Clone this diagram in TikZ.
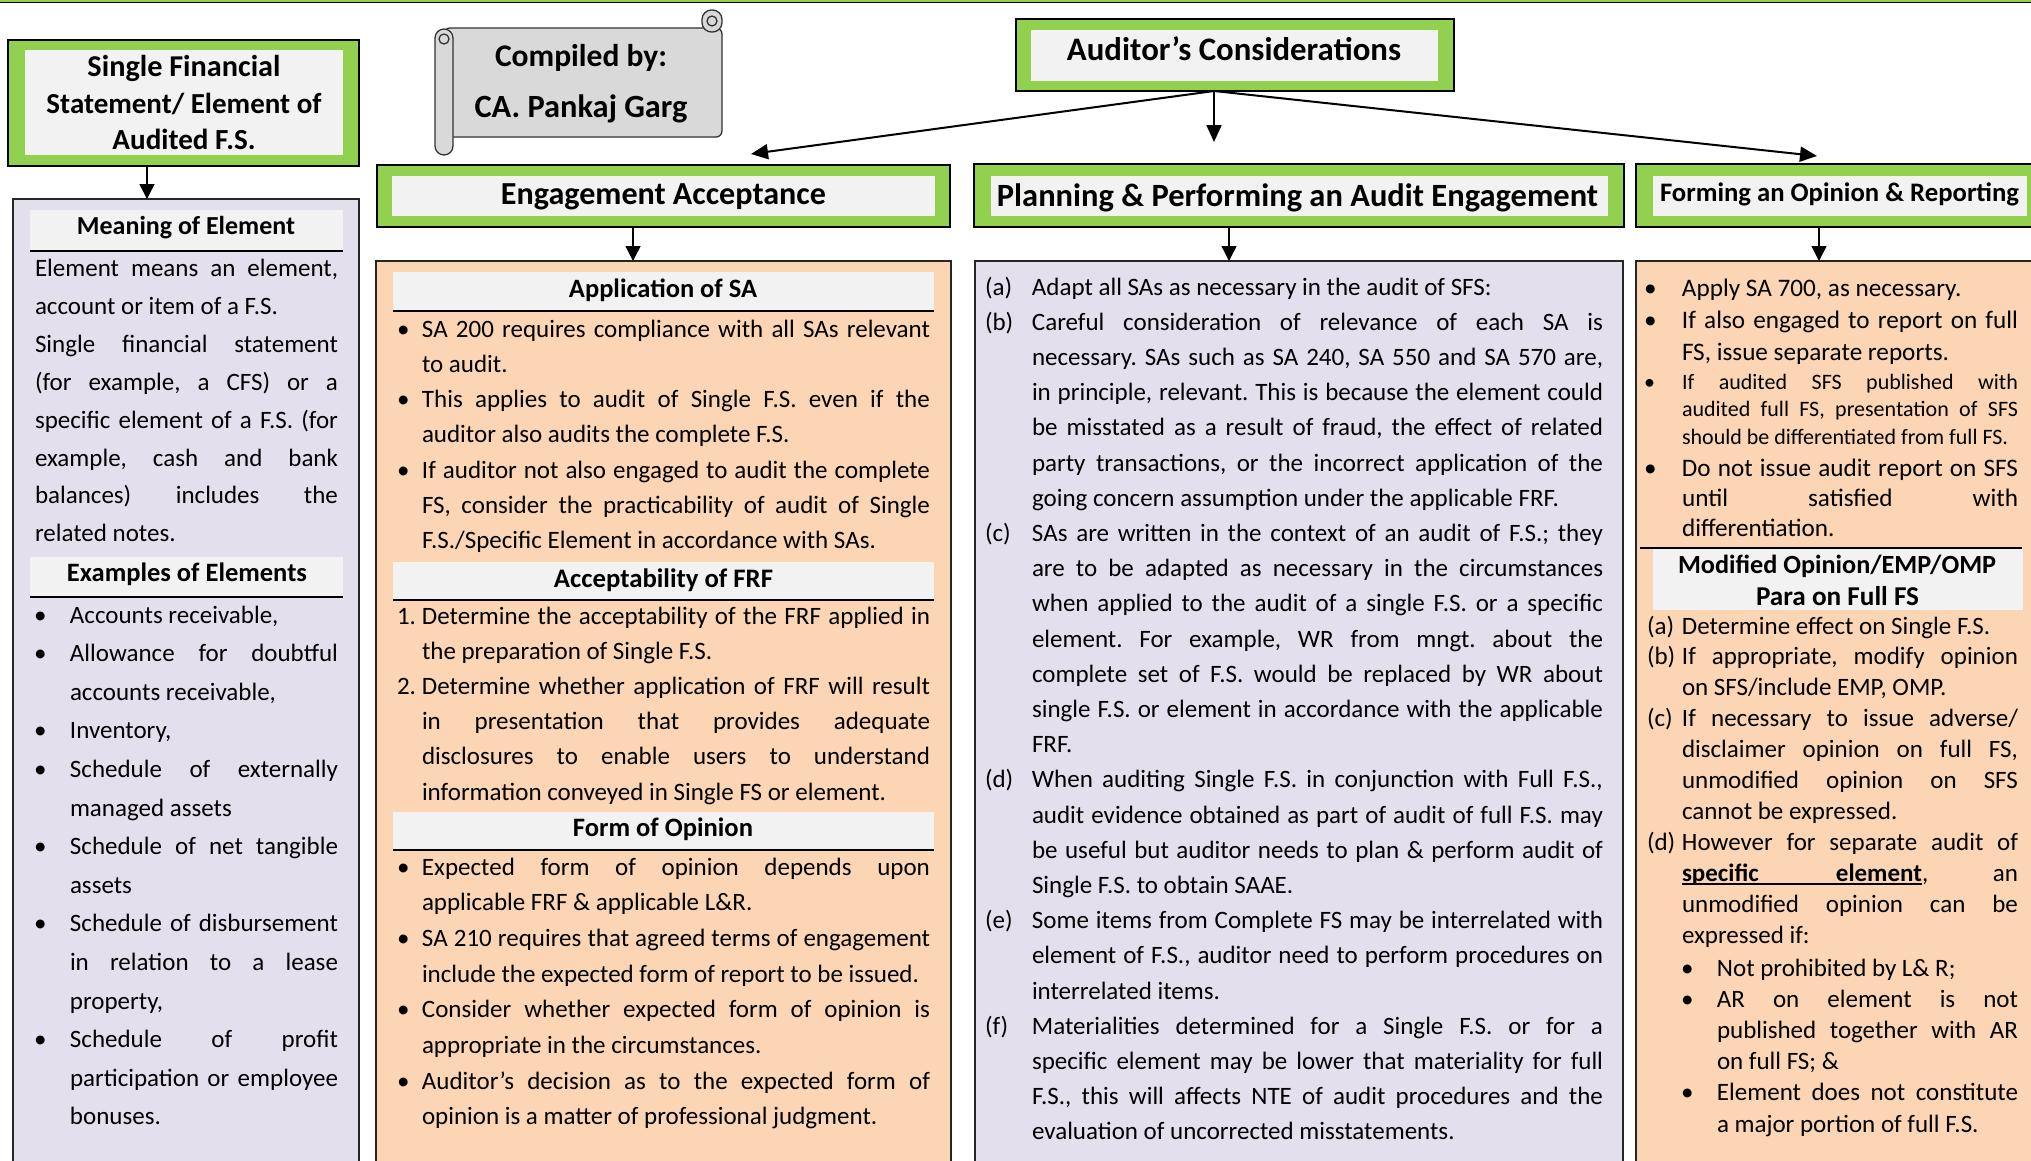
\documentclass[tikz,border=0pt]{standalone}
\usepackage{fontspec}
\usepackage{graphicx}
\setmainfont{Carlito}
\usetikzlibrary{arrows.meta}
\frenchspacing

\definecolor{hdrgreen}{HTML}{92D050}
\definecolor{hdrgrey}{HTML}{F2F2F2}
\definecolor{lavender}{HTML}{E4DFEC}
\definecolor{peach}{HTML}{FCD5B4}
\definecolor{scrollgrey}{HTML}{D9D9D9}

% Text blocks set line by line: each line is a box of fixed width.
% \Jl = justified line (spaces stretch), \Rl = last line of a paragraph.
\newdimen\LineW
\newdimen\LabW
\newcommand\TextBlock[4]{\vtop{\LineW=#1\relax\LabW=#2\relax
  \baselineskip=#3\relax\lineskiplimit=-100pt\relax\lineskip=0pt\relax #4}}
\newcommand\Jl[2]{\hbox to\LineW{\hbox to\LabW{#1\hss}#2}}
\newcommand\Rl[2]{\hbox to\LineW{\hbox to\LabW{#1\hss}#2\hfil}}
\newcommand\FitW[2]{\resizebox{#1}{!}{#2}}

\begin{document}
\begin{tikzpicture}[x=1pt,y=-1pt,
  outerbox/.style={draw=black, line width=1.6pt, fill=hdrgreen, anchor=north west, inner sep=0pt, outer sep=0pt},
  innerbox/.style={fill=hdrgrey, anchor=north west, inner sep=0pt, outer sep=0pt},
  contentbox/.style={draw=black!85, line width=1.6pt, anchor=north west, inner sep=0pt, outer sep=0pt},
  band/.style={fill=hdrgrey, anchor=north west, inner sep=0pt, outer sep=0pt},
  rulestyle/.style={line width=1.7pt},
  htext/.style={font=\bfseries, inner sep=0pt, outer sep=0pt},
  body/.style={font=\fontsize{25}{35}\selectfont, anchor=base west, inner sep=0pt, outer sep=0pt},
  arr/.style={line width=1.4pt, -{Triangle[length=15pt,width=15pt]}},
  bigarr/.style={line width=2pt, -{Triangle[length=17pt,width=15pt]}},
]
\useasboundingbox (0,0) rectangle (2031,1160);
\clip (0,0) rectangle (2031,1160);

% thin green rule along the top edge
\fill[hdrgreen] (0,-2) rectangle (2031,2);
\draw[line width=1.5pt] (0,2.6) -- (2031,2.6);

% ---------- content panels ----------
\node[contentbox, fill=lavender, minimum width=346pt, minimum height=980pt] (leftC) at (13,199) {};
\node[contentbox, fill=peach, minimum width=575pt, minimum height=920pt] (eaC) at (376,261) {};
\node[contentbox, fill=lavender, minimum width=648pt, minimum height=920pt] (ppC) at (975,261) {};
\node[contentbox, fill=peach, minimum width=420pt, minimum height=920pt] (foC) at (1636,261) {};

% ---------- section bands ----------
\node[band, minimum width=313pt, minimum height=41pt] (meanB) at (30,210) {};
\draw[rulestyle] (meanB.south west) -- (meanB.south east);
\node[band, minimum width=313pt, minimum height=40pt] (examB) at (30,557) {};
\draw[rulestyle] (examB.south west) -- (examB.south east);
\node[band, minimum width=541pt, minimum height=39pt] (applB) at (393,272) {};
\draw[rulestyle] (applB.south west) -- (applB.south east);
\node[band, minimum width=541pt, minimum height=38pt] (accB) at (393,562) {};
\draw[rulestyle] (accB.south west) -- (accB.south east);
\node[band, minimum width=541pt, minimum height=38pt] (formB) at (393,812) {};
\draw[rulestyle] (formB.south west) -- (formB.south east);
\node[band, minimum width=370pt, minimum height=61pt] (modB) at (1653,549) {};
\draw[rulestyle] (1640,548) -- (2022,548);

% ---------- title boxes ----------
\node[outerbox, minimum width=351pt, minimum height=126pt] (sfsO) at (8,40) {};
\node[innerbox, minimum width=318pt, minimum height=105pt] (sfsI) at (25,50) {};
\node[outerbox, minimum width=438pt, minimum height=72pt] (audO) at (1016,19) {};
\node[innerbox, minimum width=407pt, minimum height=51pt] (audI) at (1031,30) {};
\node[outerbox, minimum width=573pt, minimum height=62pt] (eaO) at (377,165) {};
\node[innerbox, minimum width=543pt, minimum height=40pt] (eaI) at (392,176) {};
\node[outerbox, minimum width=650pt, minimum height=63pt] (ppO) at (974,164) {};
\node[innerbox, minimum width=617pt, minimum height=40pt] (ppI) at (991,176) {};
\node[outerbox, minimum width=420pt, minimum height=63pt] (foO) at (1636,164) {};
\node[innerbox, minimum width=374pt, minimum height=40pt] (foI) at (1653,176) {};

% ---------- scroll with the compiler's name ----------
\begin{scope}[line width=1.3pt, draw=black!80, fill=scrollgrey]
  \filldraw[rounded corners=6pt] (444,28) rectangle (722,137);
  \filldraw[rounded corners=9.5pt] (702,10) rectangle (722,32);
  \filldraw (712,21) circle[radius=5];
  \filldraw[rounded corners=9pt] (435,29) rectangle (453,155);
  \filldraw (444,39) circle[radius=5];
\end{scope}
\node[htext] (cmpA) at (581,58) {\FitW{172pt}{Compiled by:}};
\node[htext] (cmpB) at (581,109) {\FitW{213pt}{CA. Pankaj Garg}};

% ---------- heading texts ----------
\node[htext, align=center, font=\bfseries\fontsize{29}{36.5}\selectfont] (sfsT) at (184,102.5)
  {\FitW{193pt}{Single Financial}\\\FitW{275pt}{Statement/ Element of}\\\FitW{143pt}{Audited F.S.}};
\node[htext] (audT) at (1234,49) {\FitW{334pt}{Auditor’s Considerations}};
\node[htext] (eaT) at (663.5,197) {\FitW{325pt}{Engagement Acceptance}};
\node[htext] (ppT) at (1297.5,198) {\FitW{601pt}{Planning \& Performing an Audit Engagement}};
\node[htext] (foT) at (1839.5,194) {\FitW{359pt}{Forming an Opinion \& Reporting}};
\node[htext] (meanT) at (186,228) {\FitW{218pt}{Meaning of Element}};
\node[htext] (examT) at (187,574) {\FitW{240pt}{Examples of Elements}};
\node[htext] (applT) at (663,290) {\FitW{188pt}{Application of SA}};
\node[htext] (accT) at (663.5,580) {\FitW{219pt}{Acceptability of FRF}};
\node[htext] (formT) at (663,829) {\FitW{180pt}{Form of Opinion}};
\node[htext] (modT1) at (1837,566) {\FitW{318pt}{Modified Opinion/EMP/OMP}};
\node[htext] (modT2) at (1837.5,596) {\FitW{163pt}{Para on Full FS}};

% ---------- connectors ----------
\coordinate (split) at (audO.south -| 1214,0);
\coordinate (eaTip) at (751,154);
\coordinate (ppTip) at (1214,142);
\coordinate (foTip) at (1817,156);
\draw[bigarr] (split) -- (eaTip);
\draw[bigarr] (split) -- (ppTip);
\draw[bigarr] (split) -- (foTip);
\draw[arr] (sfsO.south -| 147,0) -- (leftC.north -| 147,0);
\draw[arr] (eaO.south -| 633,0) -- (eaC.north -| 633,0);
\draw[arr] (ppO.south -| 1229,0) -- (ppC.north -| 1229,0);
\draw[arr] (foO.south -| 1819,0) -- (foC.north -| 1819,0);

% ---------- left column text ----------
\node[body] (meanTxt) at (35,276.5) {\TextBlock{303pt}{0pt}{37.9pt}{%
  \Jl{}{Element means an element,}
  \Rl{}{account or item of a F.S.}
  \Jl{}{Single financial statement}
  \Jl{}{(for example, a CFS) or a}
  \Jl{}{specific element of a F.S. (for}
  \Jl{}{example, cash and bank}
  \Jl{}{balances) includes the}
  \Rl{}{related notes.}}};
\node[body] (examTxt) at (34,623) {\TextBlock{304pt}{36pt}{38.6pt}{%
  \Rl{\textbullet}{Accounts receivable,}
  \Jl{\textbullet}{Allowance for doubtful}
  \Rl{}{accounts receivable,}
  \Rl{\textbullet}{Inventory,}
  \Jl{\textbullet}{Schedule of externally}
  \Rl{}{managed assets}
  \Jl{\textbullet}{Schedule of net tangible}
  \Rl{}{assets}
  \Jl{\textbullet}{Schedule of disbursement}
  \Jl{}{in relation to a lease}
  \Rl{}{property,}
  \Jl{\textbullet}{Schedule of profit}
  \Jl{}{participation or employee}
  \Rl{}{bonuses.}}};

% ---------- engagement acceptance text ----------
\node[body] (applTxt) at (397,337) {\TextBlock{533pt}{25pt}{35.3pt}{%
  \Jl{\textbullet}{SA 200 requires compliance with all SAs relevant}
  \Rl{}{to audit.}
  \Jl{\textbullet}{This applies to audit of Single F.S. even if the}
  \Rl{}{auditor also audits the complete F.S.}
  \Jl{\textbullet}{If auditor not also engaged to audit the complete}
  \Jl{}{FS, consider the practicability of audit of Single}
  \Rl{}{F.S./Specific Element in accordance with SAs.}}};
\node[body] (accTxt) at (397,624) {\TextBlock{533pt}{25pt}{35.2pt}{%
  \Jl{1.}{Determine the acceptability of the FRF applied in}
  \Rl{}{the preparation of Single F.S.}
  \Jl{2.}{Determine whether application of FRF will result}
  \Jl{}{in presentation that provides adequate}
  \Jl{}{disclosures to enable users to understand}
  \Rl{}{information conveyed in Single FS or element.}}};
\node[body] (formTxt) at (397,875) {\TextBlock{533pt}{25pt}{35.7pt}{%
  \Jl{\textbullet}{Expected form of opinion depends upon}
  \Rl{}{applicable FRF \& applicable L\&R.}
  \Jl{\textbullet}{SA 210 requires that agreed terms of engagement}
  \Rl{}{include the expected form of report to be issued.}
  \Jl{\textbullet}{Consider whether expected form of opinion is}
  \Rl{}{appropriate in the circumstances.}
  \Jl{\textbullet}{Auditor’s decision as to the expected form of}
  \Rl{}{opinion is a matter of professional judgment.}}};

% ---------- planning & performing text ----------
\node[body] (ppTxt) at (985,295) {\TextBlock{618pt}{47pt}{35.2pt}{%
  \Rl{(a)}{Adapt all SAs as necessary in the audit of SFS:}
  \Jl{(b)}{Careful consideration of relevance of each SA is}
  \Jl{}{necessary. SAs such as SA 240, SA 550 and SA 570 are,}
  \Jl{}{in principle, relevant. This is because the element could}
  \Jl{}{be misstated as a result of fraud, the effect of related}
  \Jl{}{party transactions, or the incorrect application of the}
  \Rl{}{going concern assumption under the applicable FRF.}
  \Jl{(c)}{SAs are written in the context of an audit of F.S.; they}
  \Jl{}{are to be adapted as necessary in the circumstances}
  \Jl{}{when applied to the audit of a single F.S. or a specific}
  \Jl{}{element. For example, WR from mngt. about the}
  \Jl{}{complete set of F.S. would be replaced by WR about}
  \Jl{}{single F.S. or element in accordance with the applicable}
  \Rl{}{FRF.}
  \Jl{(d)}{When auditing Single F.S. in conjunction with Full F.S.,}
  \Jl{}{audit evidence obtained as part of audit of full F.S. may}
  \Jl{}{be useful but auditor needs to plan \& perform audit of}
  \Rl{}{Single F.S. to obtain SAAE.}
  \Jl{(e)}{Some items from Complete FS may be interrelated with}
  \Jl{}{element of F.S., auditor need to perform procedures on}
  \Rl{}{interrelated items.}
  \Jl{(f)}{Materialities determined for a Single F.S. or for a}
  \Jl{}{specific element may be lower that materiality for full}
  \Jl{}{F.S., this will affects NTE of audit procedures and the}
  \Rl{}{evaluation of uncorrected misstatements.}}};

% ---------- forming an opinion text ----------
\node[body, font=\fontsize{25.2}{32}\selectfont] (foTxtA) at (1644,296) {\TextBlock{374pt}{38pt}{32pt}{%
  \Rl{\textbullet}{Apply SA 700, as necessary.}
  \Jl{\textbullet}{If also engaged to report on full}
  \Rl{}{FS, issue separate reports.}}};
\node[body, font=\fontsize{22}{27.5}\selectfont] (foTxtB) at (1644,389) {\TextBlock{374pt}{38pt}{27.5pt}{%
  \Jl{\textbullet}{If audited SFS published with}
  \Jl{}{audited full FS, presentation of SFS}
  \Rl{}{should be differentiated from full FS.}}};
\node[body, font=\fontsize{25.2}{30}\selectfont] (foTxtC) at (1644,476) {\TextBlock{374pt}{38pt}{30pt}{%
  \Jl{\textbullet}{Do not issue audit report on SFS}
  \Jl{}{until satisfied with}
  \Rl{}{differentiation.}}};
\node[body, font=\fontsize{25}{31}\selectfont] (modTxt) at (1647,634) {\TextBlock{371pt}{35pt}{30.95pt}{%
  \Rl{(a)}{Determine effect on Single F.S.}
  \Jl{(b)}{If appropriate, modify opinion}
  \Rl{}{on SFS/include EMP, OMP.}
  \Jl{(c)}{If necessary to issue adverse/}
  \Jl{}{disclaimer opinion on full FS,}
  \Jl{}{unmodified opinion on SFS}
  \Rl{}{cannot be expressed.}
  \Jl{(d)}{However for separate audit of}
  \Jl{}{\rlap{\rule[-3.5pt]{240pt}{1.8pt}}\hbox to 240pt{\bfseries specific\hfil element},\hfil an}
  \Jl{}{unmodified opinion can be}
  \Rl{}{expressed if:}}};
\node[body, font=\fontsize{25}{31}\selectfont] (condTxt) at (1681,976) {\TextBlock{337pt}{36pt}{31.2pt}{%
  \Rl{\textbullet}{Not prohibited by L\& R;}
  \Jl{\textbullet}{AR on element is not}
  \Jl{}{published together with AR}
  \Rl{}{on full FS; \&}
  \Jl{\textbullet}{Element does not constitute}
  \Rl{}{a major portion of full F.S.}}};
\end{tikzpicture}
\end{document}
